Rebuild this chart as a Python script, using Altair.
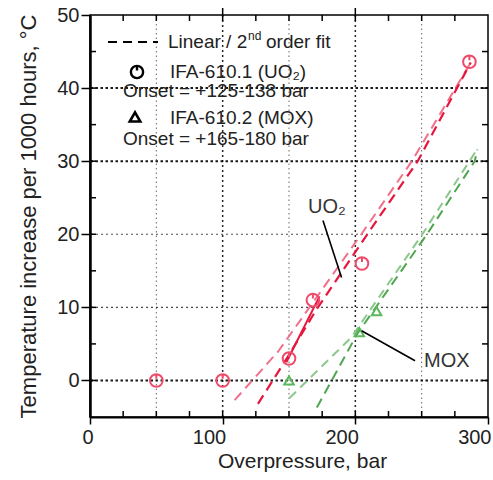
import altair as alt
import pandas as pd

# ---- data ----
uo2_x = [50, 100, 150, 168, 205, 286]
uo2_y = [0, 0, 3, 11, 16, 43.6]
mox_x = [150, 203, 216]
mox_y = [0, 6.6, 9.5]

# fitted curves (dashed)
uo2_fitA_x = [109, 142, 204.5, 242.6, 287]
uo2_fitA_y = [-2.7, 4.0, 20, 30, 43.5]
uo2_fitB_x = [126.6, 150, 170, 209, 247, 287]
uo2_fitB_y = [-3.2, 3.5, 9.5, 20, 30, 43.5]
uo2_solid_x = [148, 173]
uo2_solid_y = [2.5, 11.5]
mox_fitC_x = [150.4, 197, 250.5, 286, 291]
mox_fitC_y = [-2.4, 5.9, 20, 30, 31.4]
mox_fitD_x = [171, 201.5, 254, 290, 292]
mox_fitD_y = [-3.7, 6.4, 20, 30, 31.6]

# annotation anchors (data units)
uo2_label_xy = [178.6, 23.7]
uo2_leader = [175.6, 21.9, 189.6, 14.1]
mox_label_xy = [269, 2.6]
mox_leader = [204.7, 6.8, 245, 2.7]

# axes / ticks / grid
x_labels = [0, 100, 200, 300]
y_labels = [0, 10, 20, 30, 40, 50]
x_top_major = [100, 200]
x_minor = [25, 50, 75, 100, 125, 150, 175, 200, 225, 250, 275]
y_minor = [0, 5, 10, 15, 20, 25, 30, 35, 40, 45]
grid_x_heavy = [100, 200]
grid_x_light = [50, 150, 250]
grid_y_heavy = [0, 30, 40]
grid_y_light = [10, 20]

W, H = 398, 402
FONT = "Liberation Sans"
RED_PTS = "#f04a6a"
RED_A = "#f2708a"
RED_B = "#e8163e"
GREEN_C = "#8cc88c"
GREEN_D = "#4fa64f"

xs = alt.Scale(domain=[0, 300], nice=False, zero=False)
ys = alt.Scale(domain=[-5, 50], nice=False, zero=False)

x_axis = alt.Axis(values=x_labels, title="Overpressure, bar", grid=False,
                  tickSize=7, tickWidth=1.5, tickColor="black",
                  domain=True, domainWidth=2, domainColor="black",
                  labelAlign="right", labelOffset=3, labelPadding=3,
                  labelFontSize=20, labelColor="#222", labelFont=FONT,
                  titleFontSize=21, titleFont=FONT, titleFontWeight="normal",
                  titleColor="#222", titlePadding=3, titleX=212)
y_axis = alt.Axis(values=y_labels, title="Temperature increase per 1000 hours, °C",
                  grid=False, tickSize=9, tickWidth=1.5, tickColor="black",
                  domain=True, domainWidth=2.5, domainColor="black",
                  labelPadding=2, labelFontSize=20, labelColor="#222", labelFont=FONT,
                  titleFontSize=22, titleFont=FONT, titleFontWeight="normal",
                  titleColor="#222", titlePadding=16)


def X(f="x"):
    return alt.X(f"{f}:Q", scale=xs, axis=x_axis)


def Y(f="y"):
    return alt.Y(f"{f}:Q", scale=ys, axis=y_axis)


def xy(xv, yv):
    return pd.DataFrame({"x": xv, "y": yv})


gx_heavy = alt.Chart(pd.DataFrame({"x": grid_x_heavy})).mark_rule(
    color="black", strokeDash=[2, 3], strokeWidth=1.5, opacity=0.85).encode(x=X())
gx_light = alt.Chart(pd.DataFrame({"x": grid_x_light})).mark_rule(
    color="black", strokeDash=[1.5, 3], strokeWidth=1, opacity=0.6).encode(x=X())
gy_heavy = alt.Chart(pd.DataFrame({"y": grid_y_heavy})).mark_rule(
    color="black", strokeDash=[2.5, 2.5], strokeWidth=2, opacity=0.9).encode(y=Y())
gy_light = alt.Chart(pd.DataFrame({"y": grid_y_light})).mark_rule(
    color="black", strokeDash=[2, 3], strokeWidth=1.2, opacity=0.7).encode(y=Y())

# minor inward ticks on all four sides, plus outward major ticks on top
dfx_minor = pd.DataFrame({"x": x_minor})
dfy_minor = pd.DataFrame({"y": y_minor})
t_bottom = alt.Chart(dfx_minor).mark_rule(color="black", strokeWidth=1.5).encode(
    x=X(), y=alt.value(H), y2=alt.value(H - 6))
t_top = alt.Chart(dfx_minor).mark_rule(color="black", strokeWidth=1.5).encode(
    x=X(), y=alt.value(0), y2=alt.value(6))
t_top_major = alt.Chart(pd.DataFrame({"x": x_top_major})).mark_rule(
    color="black", strokeWidth=1.5).encode(x=X(), y=alt.value(-7), y2=alt.value(0))
t_left = alt.Chart(dfy_minor).mark_rule(color="black", strokeWidth=1.5).encode(
    y=Y(), x=alt.value(0), x2=alt.value(6))
t_right = alt.Chart(dfy_minor).mark_rule(color="black", strokeWidth=1.5).encode(
    y=Y(), x=alt.value(W), x2=alt.value(W - 6))


def fit(xv, yv, color, dash, width=2.0):
    return alt.Chart(xy(xv, yv)).mark_line(
        color=color, strokeDash=dash, strokeWidth=width).encode(x=X(), y=Y())


fitA = fit(uo2_fitA_x, uo2_fitA_y, RED_A, [10, 6])
fitB = fit(uo2_fitB_x, uo2_fitB_y, RED_B, [10, 6], 2.2)
solidU = alt.Chart(xy(uo2_solid_x, uo2_solid_y)).mark_line(
    color=RED_B, strokeWidth=2).encode(x=X(), y=Y())
fitC = fit(mox_fitC_x, mox_fitC_y, GREEN_C, [9, 6])
fitD = fit(mox_fitD_x, mox_fitD_y, GREEN_D, [10, 6])

CIRCLE = "M-1,0A1,1,0,1,0,1,0A1,1,0,1,0,-1,0M0,-1L0,-0.25"

pts_uo2 = alt.Chart(xy(uo2_x, uo2_y)).mark_point(
    shape=CIRCLE, size=160, color=RED_PTS, strokeWidth=2, filled=False, opacity=1
).encode(x=X(), y=Y())
pts_mox = alt.Chart(xy(mox_x, mox_y)).mark_point(
    shape="triangle-up", size=90, color="#5cb85c", strokeWidth=2, filled=False, opacity=1
).encode(x=X(), y=Y())


# annotations
def label(t, pos):
    return alt.Chart(xy([pos[0]], [pos[1]])).mark_text(
        text=t, fontSize=20, font=FONT, color="#333").encode(x=X(), y=Y())


def leader(seg):
    df = pd.DataFrame({"x": [seg[0]], "y": [seg[1]], "x2": [seg[2]], "y2": [seg[3]]})
    return alt.Chart(df).mark_rule(color="black", strokeWidth=1.6).encode(
        x=X(), y=Y(), x2="x2:Q", y2="y2:Q")


lab_uo2 = label("UO₂", uo2_label_xy)
lead_uo2 = leader(uo2_leader)
lab_mox = label("MOX", mox_label_xy)
lead_mox = leader(mox_leader)

one = pd.DataFrame({"a": [0]})


# legend block (upper left)
def ltext(t, x, y, size=19):
    return alt.Chart(one).mark_text(text=t, fontSize=size, font=FONT, color="#222",
                                    align="left", baseline="middle").encode(
        x=alt.value(x), y=alt.value(y))


leg_dash = alt.Chart(one).mark_rule(color="black", strokeDash=[9, 6], strokeWidth=1.8).encode(
    x=alt.value(18), x2=alt.value(68), y=alt.value(27))
leg_t1 = ltext("Linear / 2", 78, 27)
leg_t1b = ltext("nd", 158, 21, size=12)
leg_t1c = ltext("order fit", 176, 27)
leg_circ = alt.Chart(one).mark_point(shape=CIRCLE, size=150, color="black", strokeWidth=2.4,
                                     filled=False, opacity=1).encode(
    x=alt.value(47), y=alt.value(57))
leg_t2 = ltext("IFA-610.1 (UO₂)", 80, 57)
leg_t3 = ltext("Onset = +125-138 bar", 33, 76)
leg_tri = alt.Chart(one).mark_point(shape="triangle-up", size=110, color="black", strokeWidth=2.6,
                                    filled=False, opacity=1).encode(
    x=alt.value(45), y=alt.value(102))
leg_t4 = ltext("IFA-610.2 (MOX)", 80, 103)
leg_t5 = ltext("Onset = +165-180 bar", 33, 124)

chart = alt.layer(
    gx_heavy, gx_light, gy_heavy, gy_light,
    t_bottom, t_top, t_top_major, t_left, t_right,
    fitA, fitB, solidU, fitC, fitD,
    pts_uo2, pts_mox,
    lead_uo2, lab_uo2, lead_mox, lab_mox,
    leg_dash, leg_t1, leg_t1b, leg_t1c, leg_circ, leg_t2, leg_t3, leg_tri, leg_t4, leg_t5,
).properties(
    width=W, height=H,
    autosize=alt.AutoSizeParams(type="none"),
    padding={"left": 90, "top": 15, "right": 5, "bottom": 63},
    background="white",
).configure_view(stroke="black", strokeWidth=1.5)

chart.save("out.html", embed_options={"renderer": "svg", "actions": False})
